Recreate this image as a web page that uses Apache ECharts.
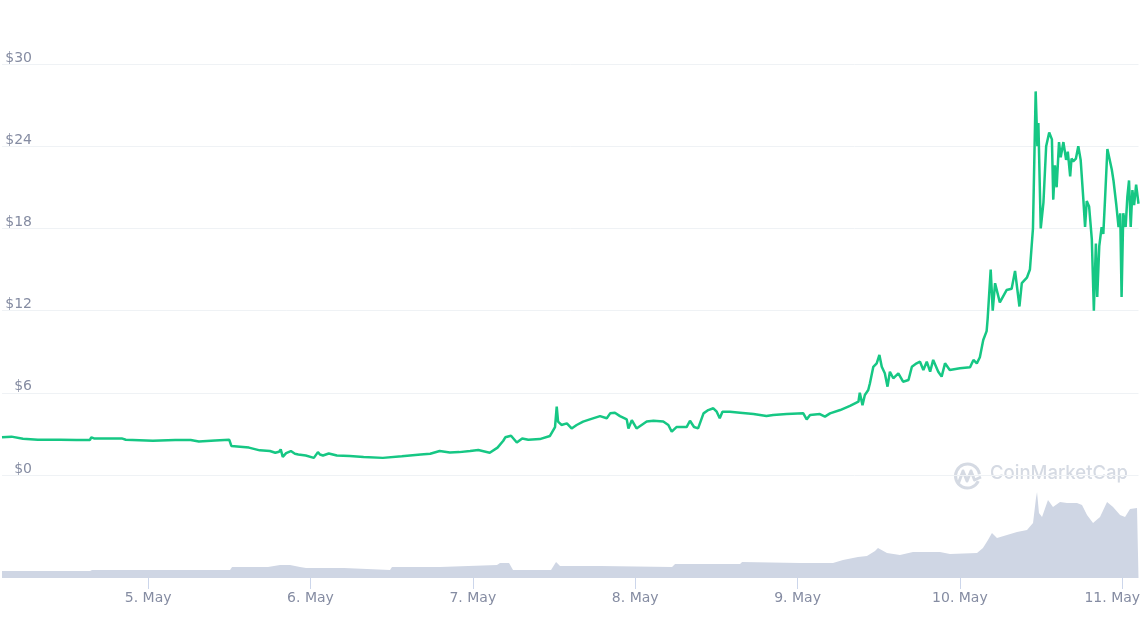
<!DOCTYPE html>
<html>
<head>
<meta charset="utf-8">
<script src="https://cdn.jsdelivr.net/npm/echarts@6/dist/echarts.min.js"></script>
<style>
html,body{margin:0;padding:0;background:#fff;overflow:hidden;}
#chart{width:1147px;height:625px;}
</style>
</head>
<body>
<div id="chart"></div>
<script>
// Time values are hours after 4 May 00:00 (UTC)
const priceHours = [2.4,3.8,5.5,7.7,11.0,13.4,15.4,15.6,16.0,20.1,20.7,24.7,28.0,30.3,31.5,33.9,36.0,36.3,38.9,40.5,
  42.0,42.8,43.35,43.6,43.9,44.4,45.1,45.7,46.2,47.3,48.5,49.1,49.4,49.85,50.7,51.9,53.8,55.85,58.7,61.5,
  64.3,65.7,67.1,68.6,70.0,71.6,72.8,74.5,75.65,76.5,76.8,77.65,78.5,79.3,80.2,81.9,83.4,84.15,84.4,84.6,
  85.1,85.9,86.6,87.35,88.3,89.3,90.8,91.8,92.3,93.0,93.75,94.75,95.0,95.5,96.2,97.7,98.7,100.15,100.9,101.4,
  102.1,103.6,104.1,104.7,105.3,106.1,106.8,107.55,108.05,108.5,108.9,110.0,111.5,113.5,115.4,116.4,118.4,120.85,121.35,121.85,
  123.3,124.05,124.8,126.3,127.75,129.0,129.2,129.6,129.95,130.45,130.7,131.2,131.7,132.1,132.45,132.9,133.3,133.65,134.15,134.9,
  135.6,136.4,136.9,137.6,138.1,138.6,139.1,139.6,140.05,140.8,141.3,141.8,142.5,144.0,145.5,146.0,146.5,146.95,147.45,147.95,
  148.1,148.55,148.85,149.2,149.9,150.9,151.65,152.15,152.8,153.15,153.9,154.35,154.8,155.2,155.45,155.6,155.95,156.35,156.75,157.2,
  157.6,157.8,158.05,158.3,158.65,158.9,159.3,159.7,159.95,160.3,160.5,160.75,161.15,161.5,161.85,162.25,162.5,162.75,163.1,163.5,
  163.8,164.1,164.3,164.6,164.95,165.2,165.45,165.8,166.1,166.45,166.7,167.1,167.45,167.7,167.9,168.15,168.5,168.75,169.0,169.25,
  169.5,169.75,170.05,170.4];
const priceValues = [2.75,2.8,2.65,2.58,2.57,2.55,2.56,2.75,2.67,2.67,2.57,2.5,2.55,2.55,2.45,2.52,2.57,2.12,2.0,1.8,
  1.75,1.62,1.7,1.87,1.32,1.6,1.75,1.55,1.5,1.42,1.25,1.67,1.5,1.42,1.57,1.42,1.38,1.32,1.25,1.37,
  1.5,1.55,1.75,1.65,1.67,1.75,1.82,1.62,2.0,2.5,2.75,2.87,2.37,2.67,2.57,2.62,2.85,3.5,5.0,3.9,
  3.65,3.77,3.4,3.65,3.9,4.06,4.3,4.14,4.5,4.55,4.3,4.06,3.4,4.0,3.4,3.9,3.96,3.9,3.65,3.16,
  3.5,3.5,3.96,3.5,3.4,4.5,4.74,4.87,4.62,4.14,4.62,4.62,4.55,4.45,4.3,4.38,4.45,4.5,4.06,4.38,
  4.45,4.26,4.5,4.74,5.04,5.35,6.0,5.1,5.84,6.2,6.7,7.9,8.15,8.76,7.9,7.42,6.45,7.54,7.06,7.42,
  6.81,6.93,7.9,8.15,8.27,7.66,8.27,7.54,8.4,7.54,7.18,8.15,7.66,7.79,7.86,8.4,8.15,8.6,9.85,10.5,
  11.4,15.0,12.0,14.0,12.6,13.5,13.6,14.9,12.3,14.0,14.4,15.0,18.0,28.0,24.0,25.7,18.0,19.9,24.0,25.0,
  24.5,20.1,22.6,21.0,24.3,23.2,24.3,23.0,23.6,21.8,23.1,22.9,23.1,24.0,23.0,20.1,18.1,20.0,19.6,17.2,
  12.0,16.9,13.0,16.7,18.1,17.6,20.1,23.8,23.1,22.3,21.5,19.8,18.1,19.1,13.0,19.1,18.1,20.3,21.5,18.1,
  20.8,19.7,21.2,19.8];
const volumeHours = [2.4,15.41,15.71,36.11,36.41,41.72,43.5,44.98,46.45,47.34,52.96,53.25,59.76,60.05,67.15,67.44,75.57,76.02,77.35,77.94,
  83.56,84.3,84.89,90.8,101.45,101.89,111.5,111.8,120.36,125.24,126.72,128.93,130.26,131.45,131.89,133.22,135.14,137.06,141.05,142.53,
  146.53,147.41,148.15,148.74,149.48,150.96,152.44,153.92,154.81,155.25,155.4,155.69,156.14,157.02,157.76,158.8,159.83,161.31,162.05,162.79,
  163.68,164.71,165.75,166.64,167.67,168.41,169.15,170.18,170.4];
// 24h volume, $M
const volumeValues = [140,140,160,160,220,220,260,260,220,200,200,160,160,220,220,260,260,300,300,160,
  160,320,240,240,220,280,280,320,300,300,360,420,440,540,600,500,460,520,520,480,
  500,600,760,900,800,860,920,960,1100,1600,1720,1300,1220,1560,1420,1520,1500,1500,1460,1260,
  1100,1220,1520,1420,1260,1220,1380,1400,1380];
const dayTickHours = [24,48,72,96,120,144,168];
const dayTickLabels = ['5. May','6. May','7. May','8. May','9. May','10. May','11. May'];
const START_HOUR = 2.4, END_HOUR = 170.4;

const priceData = priceHours.map((h, i) => [h, priceValues[i]]);
const volumeData = volumeHours.map((h, i) => [h, volumeValues[i]]);
const labelFor = {};
dayTickHours.forEach((t, i) => { labelFor[t] = dayTickLabels[i]; });
const lastTick = dayTickHours[dayTickHours.length - 1];

const FONT = 'DejaVu Sans';
const LABEL_COLOR = '#858ca2';
const chart = echarts.init(document.getElementById('chart'), null, {renderer: 'canvas'});
const WM = '#d5dae3';
chart.setOption({
  animation: false,
  backgroundColor: '#ffffff',
  grid: [
    {left: 2, right: 8.5, top: 64, height: 411, containLabel: false, outerBoundsMode: 'none'},
    {left: 2, right: 8.5, top: 478, height: 100, containLabel: false, outerBoundsMode: 'none'}
  ],
  xAxis: [
    {type: 'value', gridIndex: 0, min: START_HOUR, max: END_HOUR,
     axisLine: {show: false}, axisTick: {show: false}, axisLabel: {show: false}, splitLine: {show: false}},
    {type: 'value', gridIndex: 1, min: START_HOUR, max: END_HOUR,
     axisLine: {show: false},
     axisTick: {show: true, customValues: dayTickHours, length: 11, lineStyle: {color: '#ccd6eb', width: 1}},
     axisLabel: {show: true, customValues: dayTickHours, margin: 13, color: LABEL_COLOR, fontFamily: FONT, fontSize: 14,
       hideOverlap: false,
       formatter: v => v === lastTick ? '{last|' + labelFor[v] + '}' : (labelFor[v] || ''),
       rich: {last: {padding: [0, 20, 0, 0], color: LABEL_COLOR, fontFamily: FONT, fontSize: 14}}},
     splitLine: {show: false}}
  ],
  yAxis: [
    {type: 'value', gridIndex: 0, min: 0, max: 30, interval: 6,
     axisLine: {show: false}, axisTick: {show: false},
     axisLabel: {inside: true, margin: 30, align: 'right', verticalAlign: 'bottom', lineHeight: 12, padding: 0,
       color: LABEL_COLOR, fontFamily: FONT, fontSize: 14, formatter: v => '$' + v},
     splitLine: {show: true, lineStyle: {color: '#eff2f5', width: 1}}},
    {type: 'value', gridIndex: 1, min: 0, max: 2000,
     axisLine: {show: false}, axisTick: {show: false}, axisLabel: {show: false}, splitLine: {show: false}}
  ],
  graphic: [
    {type: 'arc', z: 0, shape: {cx: 967.5, cy: 476, r: 12, startAngle: 0.45, endAngle: Math.PI * 2 - 0.15},
     style: {stroke: WM, lineWidth: 3, fill: null}},
    {type: 'polyline', z: 0, shape: {points: [[958.5, 483], [963, 471], [967, 481], [971, 471], [974.5, 480], [981, 477]]},
     style: {stroke: WM, lineWidth: 3, fill: null, lineJoin: 'round'}},
    {type: 'text', z: 0, left: 990, top: 464,
     style: {text: 'CoinMarketCap', font: '500 18.5px Inter', fill: WM}}
  ],
  series: [
    {type: 'line', name: 'Volume', xAxisIndex: 1, yAxisIndex: 1, data: volumeData,
     showSymbol: false, lineStyle: {width: 0}, areaStyle: {color: '#cfd6e4', opacity: 1}, silent: true},
    {type: 'line', name: 'Price', xAxisIndex: 0, yAxisIndex: 0, data: priceData,
     showSymbol: false, lineStyle: {color: '#16c784', width: 2.5}, itemStyle: {color: '#16c784'}, z: 5}
  ]
});
</script>
</body>
</html>
